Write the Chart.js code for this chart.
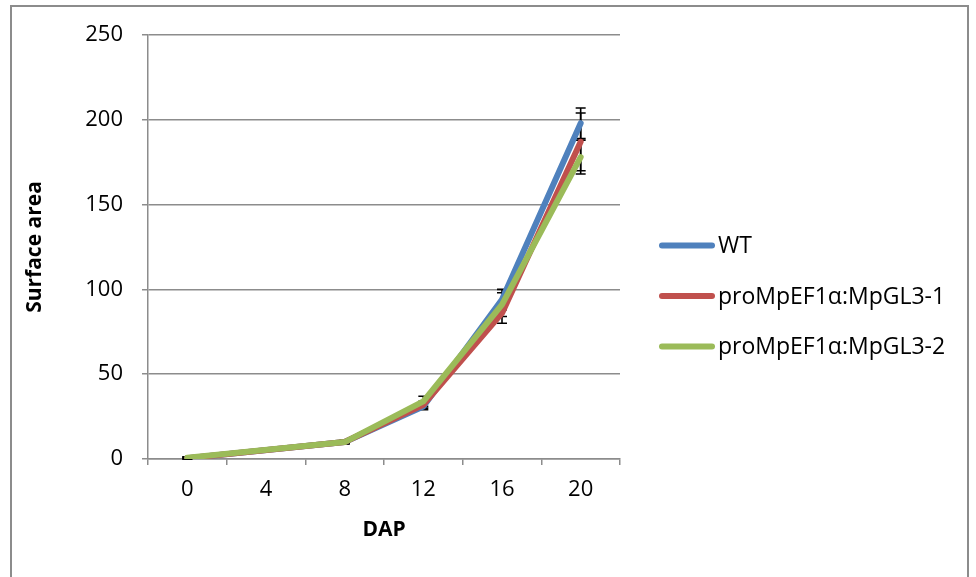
<!DOCTYPE html>
<html>
<head>
<meta charset="utf-8">
<script src="https://cdn.jsdelivr.net/npm/chart.js@4.4.1/dist/chart.umd.min.js"></script>
<style>
  html, body { margin: 0; padding: 0; background: #fff; }
  #wrap { position: relative; width: 976px; height: 577px; }
</style>
</head>
<body>
<div id="wrap"><canvas id="chart" width="976" height="577"></canvas></div>
<script>
// Surface area growth over days after planting (DAP)
const dapLabels = ['0', '4', '8', '12', '16', '20'];
const seriesNames = ['WT', 'proMpEF1α:MpGL3-1', 'proMpEF1α:MpGL3-2'];

// no measurement at DAP 4, line is joined across it
const wtValues = [0.5, null, 10, 31, 94, 198];
const gl3OneValues = [0.5, null, 10, 32, 86, 187];
const gl3TwoValues = [0.8, null, 10, 34, 91, 178];

const wtErrors = [0.5, null, 1, 2, 6, 9];
const gl3OneErrors = [0.5, null, 1, 2, 6, 17];
const gl3TwoErrors = [0.5, null, 1, 3, 7, 10];

const yTicks = [0, 50, 100, 150, 200, 250];

const colors = ['#4F81BD', '#C0504D', '#9BBB59'];
const fontFamily = "'Open Sans', 'Noto Sans', sans-serif";

// error bars, drawn under the lines
const errorBars = {
  id: 'errorBars',
  beforeDatasetsDraw(chart) {
    const ctx = chart.ctx;
    const y = chart.scales.y;
    ctx.save();
    ctx.strokeStyle = '#000';
    ctx.lineWidth = 1.6;
    chart.data.datasets.forEach((ds, di) => {
      const meta = chart.getDatasetMeta(di);
      ds.errors.forEach((err, i) => {
        const v = ds.data[i];
        if (err == null || v == null) return;
        const x = meta.data[i].x;
        const top = y.getPixelForValue(v + err);
        const bot = y.getPixelForValue(v - err);
        ctx.beginPath();
        ctx.moveTo(x, top); ctx.lineTo(x, bot);
        ctx.moveTo(x - 5, top); ctx.lineTo(x + 5, top);
        ctx.moveTo(x - 5, bot); ctx.lineTo(x + 5, bot);
        ctx.stroke();
      });
    });
    ctx.restore();
  }
};

// legend on the right, line swatches like the original
const sideLegend = {
  id: 'sideLegend',
  afterDraw(chart) {
    const ctx = chart.ctx;
    const area = chart.chartArea;
    const x0 = area.right + 42;
    const yMid = 296;
    const gap = 50.5;
    ctx.save();
    ctx.font = '23px ' + fontFamily;
    ctx.textBaseline = 'middle';
    ctx.fillStyle = '#000';
    ctx.lineWidth = 6;
    ctx.lineCap = 'round';
    chart.data.datasets.forEach((ds, i) => {
      const yy = yMid + (i - 1) * gap;
      ctx.strokeStyle = ds.borderColor;
      ctx.beginPath();
      ctx.moveTo(x0, yy);
      ctx.lineTo(x0 + 50, yy);
      ctx.stroke();
      ctx.fillText(ds.label, x0 + 56, yy + 1);
    });
    ctx.restore();
  }
};

// outer frame of the figure
const frame = {
  id: 'frame',
  afterDraw(chart) {
    const ctx = chart.ctx;
    ctx.save();
    ctx.strokeStyle = '#8c8c8c';
    ctx.lineWidth = 2;
    ctx.strokeRect(11, 6, 957, 600);
    ctx.restore();
  }
};

const makeSet = (label, data, errors, color, order) => ({
  label: label,
  data: data,
  errors: errors,
  borderColor: color,
  backgroundColor: color,
  borderWidth: 6,
  borderCapStyle: 'round',
  borderJoinStyle: 'round',
  pointRadius: 0,
  tension: 0,
  spanGaps: true,
  order: order
});

new Chart(document.getElementById('chart'), {
  type: 'line',
  data: {
    labels: dapLabels,
    datasets: [
      makeSet(seriesNames[0], wtValues, wtErrors, colors[0], 3),
      makeSet(seriesNames[1], gl3OneValues, gl3OneErrors, colors[1], 2),
      makeSet(seriesNames[2], gl3TwoValues, gl3TwoErrors, colors[2], 1)
    ]
  },
  options: {
    responsive: false,
    animation: false,
    layout: { padding: { left: 14, right: 356, top: 35, bottom: 0 } },
    plugins: {
      tooltip: { enabled: false },
      legend: { display: false }
    },
    scales: {
      x: {
        offset: true,
        grid: {
          offset: true,
          drawOnChartArea: false,
          color: '#8c8c8c',
          lineWidth: 1.5,
          tickLength: 6
        },
        border: { color: '#8c8c8c', width: 1.5 },
        ticks: { color: '#000', font: { family: fontFamily, size: 22 }, padding: 12, maxRotation: 0 },
        title: {
          display: true,
          text: 'DAP',
          color: '#000',
          font: { family: fontFamily, size: 21, weight: 'bold' },
          padding: { top: 0, bottom: 34 }
        },
        afterFit(scale) { scale.height = 118; }
      },
      y: {
        min: 0,
        max: 250,
        afterBuildTicks(scale) { scale.ticks = yTicks.map(v => ({ value: v })); },
        grid: { color: '#8c8c8c', lineWidth: 1.5, tickLength: 6 },
        border: { color: '#8c8c8c', width: 1.5 },
        ticks: { color: '#000', font: { family: fontFamily, size: 22 }, padding: 19 },
        title: {
          display: true,
          text: 'Surface area',
          color: '#000',
          font: { family: fontFamily, size: 21, weight: 'bold' },
          padding: { top: 8, bottom: 0 }
        },
        afterFit(scale) { scale.width = 134; }
      }
    }
  },
  plugins: [errorBars, sideLegend, frame]
});
</script>
</body>
</html>
